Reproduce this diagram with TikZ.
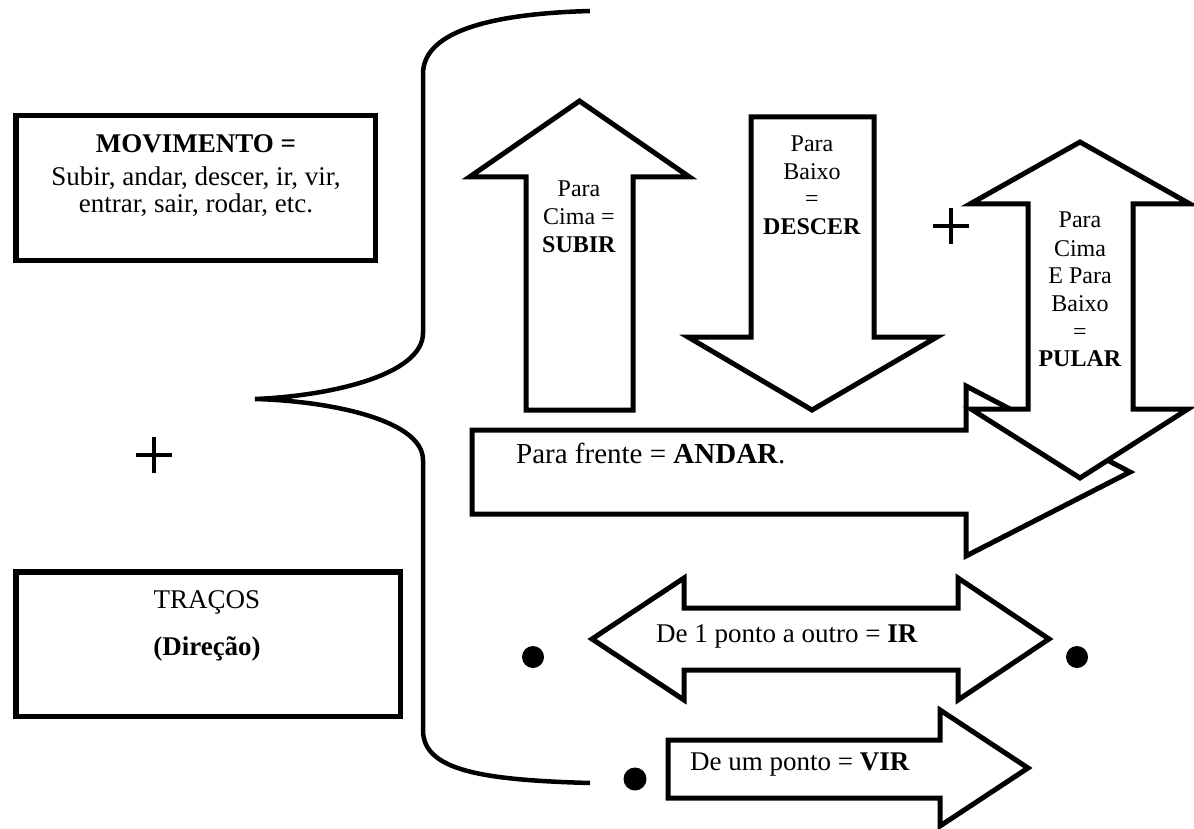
\documentclass[tikz,border=0pt]{standalone}
\usepackage{fontspec}
\setmainfont{Liberation Serif}
\begin{document}
\begin{tikzpicture}[x=1pt,y=-1pt,
  outline/.style={draw=black, line width=5pt, line join=miter, fill=white},
  boxline/.style={draw=black, line width=5.5pt, line join=miter},
  bracket/.style={draw=black, line width=4.5pt},
  crossline/.style={draw=black, line width=3.5pt},
  bigtext/.style={font=\fontsize{27}{30}\selectfont, inner sep=0pt, anchor=base},
  midtext/.style={font=\fontsize{29}{32}\selectfont, inner sep=0pt, anchor=base west},
  smalltext/.style={font=\fontsize{24}{27}\selectfont, inner sep=0pt, anchor=base},
  dot/.style={fill=black}]
\useasboundingbox (0,0) rectangle (1194,829);

% left boxes
\draw[boxline] (15.75,115.75) rectangle (375.25,260.25);
\node[bigtext] (mov1) at (196,153) {\textbf{MOVIMENTO =}};
\node[bigtext] (mov2) at (196,186) {Subir, andar, descer, ir, vir,};
\node[bigtext] (mov3) at (196,213) {entrar, sair, rodar, etc.};

\draw[boxline] (15.75,571.75) rectangle (400.25,716.25);
\node[bigtext] (tr1) at (207,608) {TRAÇOS};
\node[bigtext] (tr2) at (207,655) {\textbf{(Direção)}};

% plus signs
\draw[crossline] (136,455) -- (172,455) (154,437) -- (154,473);
\draw[crossline] (933,226) -- (969,226) (951,208) -- (951,244);

% curly brace
\draw[bracket] (590,11) .. controls (480,14) and (423,35) .. (423,74)
  -- (423,333) .. controls (423,375) and (330,396) .. (255,399)
  .. controls (330,401) and (423,420) .. (423,460)
  -- (423,730) .. controls (423,770) and (480,780) .. (590,783);

% forward arrow
\draw[outline] (472,430) -- (966,430) -- (966,386) -- (1130,472)
  -- (966,556) -- (966,514) -- (472,514) -- cycle;

% up-and-down arrow
\draw[outline] (1080,142) -- (1190,204) -- (1133,204) -- (1133,409)
  -- (1188,409) -- (1080,478) -- (971,409) -- (1028,409)
  -- (1028,204) -- (970,204) -- cycle;

% up arrow
\draw[outline] (579.5,101) -- (689.5,177) -- (633,177) -- (633,410)
  -- (526,410) -- (526,177) -- (469.5,177) -- cycle;

% down arrow
\draw[outline] (751,117) -- (874,117) -- (874,337) -- (937,337)
  -- (812,410) -- (688,337) -- (751,337) -- cycle;

% double-headed arrow
\draw[outline] (592,639) -- (684,578) -- (684,608) -- (958,608)
  -- (958,578) -- (1049,639) -- (958,700) -- (958,670)
  -- (684,670) -- (684,700) -- cycle;

% right arrow
\draw[outline] (668,740) -- (940,740) -- (940,710) -- (1028,768)
  -- (940,826) -- (940,798) -- (668,798) -- cycle;

% points
\fill[dot] (533,657) circle (11pt);
\fill[dot] (1077,657) circle (11pt);
\fill[dot] (635,779) circle (11.5pt);

% arrow labels
\node[smalltext] (su1) at (579,197) {Para};
\node[smalltext] (su2) at (579,224.5) {Cima =};
\node[smalltext] (su3) at (579,252) {\textbf{SUBIR}};

\node[smalltext] (de1) at (812,152) {Para};
\node[smalltext] (de2) at (812,179.5) {Baixo};
\node[smalltext] (de3) at (812,207) {=};
\node[smalltext] (de4) at (812,235) {\textbf{DESCER}};

\node[smalltext] (pu1) at (1080,228) {Para};
\node[smalltext] (pu2) at (1080,256) {Cima};
\node[smalltext] (pu3) at (1080,283.5) {E Para};
\node[smalltext] (pu4) at (1080,311) {Baixo};
\node[smalltext] (pu5) at (1080,339) {=};
\node[smalltext] (pu6) at (1080,366.7) {\textbf{PULAR}};

\node[midtext] (an) at (516,463) {Para frente = \textbf{ANDAR}.};
\node[bigtext, anchor=base west] (ir) at (656,642) {De 1 ponto a outro = \textbf{IR}};
\node[bigtext, anchor=base west] (vir) at (690,770) {De um ponto = \textbf{VIR}};
\end{tikzpicture}
\end{document}
